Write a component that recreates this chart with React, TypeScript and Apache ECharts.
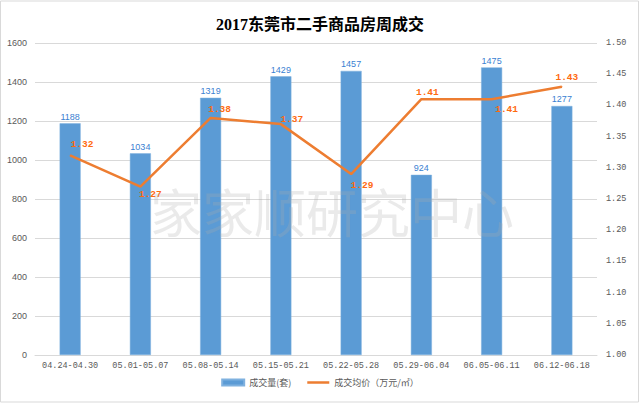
import React, { useEffect, useRef } from "react";
import * as echarts from "echarts";

const categories = ["04.24-04.30", "05.01-05.07", "05.08-05.14", "05.15-05.21", "05.22-05.28", "05.29-06.04", "06.05-06.11", "06.12-06.18"];
const volumes = [1188, 1034, 1319, 1429, 1457, 924, 1475, 1277];
const prices = [1.32, 1.27, 1.38, 1.37, 1.29, 1.41, 1.41, 1.43];
const priceLabelOffsets = [[12, 0], [10, 18], [9, 2], [11, 6], [11, 22], [6, 4], [15, 21], [5, 1]];
const seriesNames = ["成交量(套)", "成交均价（万元/㎡）"];
const titleText = "2017东莞市二手商品房周成交";
const watermarkText = "家家顺研究中心";

export default function App() {
  const ref = useRef<HTMLDivElement>(null);
  useEffect(() => {
    document.body.style.margin = "0";
    const chart = echarts.init(ref.current!, null, { renderer: "svg" });
    const mono = "'Liberation Mono', 'DejaVu Sans Mono', monospace";
    chart.setOption({
      animation: false,
      backgroundColor: "#ffffff",
      title: {
        text: titleText,
        left: "center",
        top: 11,
        textStyle: {
          fontFamily: "'Liberation Serif', 'Noto Sans CJK SC', serif",
          fontWeight: "bold",
          fontSize: 16,
          color: "#000000",
        },
      },
      legend: {
        bottom: 11,
        left: "center",
        itemWidth: 22,
        itemHeight: 6,
        itemGap: 16,
        symbolKeepAspect: true,
        data: [
          { name: seriesNames[0], icon: "rect" },
          { name: seriesNames[1], icon: "path://M0,0H22V2.5H0Z" },
        ],
        textStyle: { fontSize: 9, color: "#595959", fontFamily: "'Noto Sans CJK SC', sans-serif" },
      },
      grid: { left: 35, right: 43, top: 43, bottom: 48, containLabel: false },
      xAxis: {
        type: "category",
        data: categories,
        axisLine: { lineStyle: { color: "#D9D9D9", width: 1 } },
        axisTick: { show: false },
        axisLabel: { color: "#595959", fontSize: 8.5, fontFamily: mono, margin: 6, interval: 0 },
      },
      yAxis: [
        {
          type: "value",
          min: 0,
          max: 1600,
          interval: 200,
          axisLine: { show: false },
          axisTick: { show: false },
          splitLine: { lineStyle: { color: "#D9D9D9", width: 1 } },
          axisLabel: {
            color: "#595959",
            fontSize: 9,
            fontFamily: "'Liberation Sans', sans-serif",
            margin: 8,
            formatter: (v: number) => String(v),
          },
        },
        {
          type: "value",
          min: 1.0,
          max: 1.5,
          interval: 0.05,
          axisLine: { show: false },
          axisTick: { show: false },
          splitLine: { show: false },
          axisLabel: {
            color: "#595959",
            fontSize: 8.5,
            fontFamily: mono,
            margin: 9,
            formatter: (v: number) => v.toFixed(2),
          },
        },
      ],
      series: [
        {
          name: seriesNames[0],
          type: "bar",
          data: volumes,
          barWidth: 21,
          itemStyle: { color: "#5B9BD5", borderColor: "#7FB1DF", borderWidth: 0.5 },
          label: {
            show: true,
            position: "top",
            distance: 2,
            color: "#3A7FD2",
            fontSize: 9,
            fontFamily: "'Liberation Sans', sans-serif",
          },
        },
        {
          name: seriesNames[1],
          type: "line",
          yAxisIndex: 1,
          data: prices.map((p, i) => ({
            value: p,
            label: { offset: priceLabelOffsets[i] },
          })),
          symbol: "circle",
          symbolSize: 1,
          showSymbol: true,
          lineStyle: { color: "#ED7D31", width: 2.5 },
          itemStyle: { color: "#ED7D31" },
          label: {
            show: true,
            position: "top",
            color: "#FF6A10",
            fontSize: 9.5,
            fontWeight: "bold",
            fontFamily: mono,
            formatter: (p: any) => Number(p.value).toFixed(2),
          },
          z: 3,
        },
      ],
      graphic: [
        {
          type: "rect",
          shape: { x: 0.5, y: 1, width: 638, height: 401 },
          style: { fill: "none", stroke: "#D9D9D9", lineWidth: 1 },
          silent: true,
          z: 0,
        },
        {
          type: "text",
          x: 332,
          y: 210,
          style: {
            text: watermarkText,
            fontSize: 52,
            fontFamily: "'Noto Sans CJK SC', sans-serif",
            fill: "rgba(170,170,170,0.25)",
            align: "center",
            verticalAlign: "middle",
          },
          silent: true,
          z: 10,
        },
      ],
    });
    return () => chart.dispose();
  }, []);
  return <div ref={ref} style={{ position: "absolute", left: 0, top: 0, width: 640, height: 403 }} />;
}
